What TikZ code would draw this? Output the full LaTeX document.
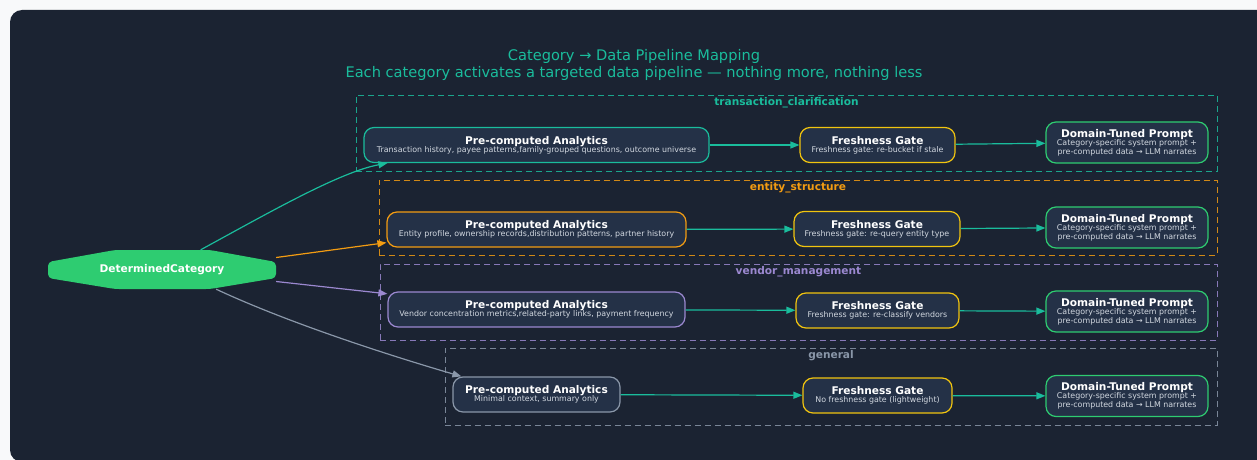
\documentclass[tikz,border=0pt]{standalone}
\usepackage{fontspec}
\setmainfont{DejaVu Sans}
\usetikzlibrary{arrows.meta}
\definecolor{PMPage}{HTML}{F8F9FA}
\definecolor{PMPanel}{HTML}{1B2332}
\definecolor{PMBox}{HTML}{243147}
\definecolor{PMTeal}{HTML}{1ABC9C}
\definecolor{PMOrange}{HTML}{F39C12}
\definecolor{PMPurple}{HTML}{9B88D0}
\definecolor{PMGrey}{HTML}{8A97A9}
\definecolor{PMGold}{HTML}{F1C40F}
\definecolor{PMGreen}{HTML}{2ECC71}
\definecolor{PMSub}{HTML}{D2D8E0}

% bold white heading line; the note lines below use the node font
\newcommand{\boxtext}[2]{{\fontsize{10.6}{12}\selectfont\bfseries\color{white}#1}\\[-1pt]#2}

\tikzset{
  stagebox/.style={draw=#1, line width=1.2pt, fill=PMBox, rounded corners=10pt,
    align=center, text=PMSub, font=\fontsize{7.9}{9.2}\selectfont,
    inner sep=0pt, minimum height=35pt},
  gatebox/.style={stagebox=PMGold},
  promptbox/.style={stagebox=PMGreen, minimum width=162pt, minimum height=41pt},
  clusterbox/.style={draw=#1, draw opacity=.85, line width=1pt, dash pattern=on 6pt off 4pt},
  clustertag/.style={text=#1, font=\fontsize{10.6}{12}\selectfont\bfseries,
    anchor=north, inner sep=0pt, yshift=-3pt},
  flow/.style={draw=#1, line width=1.2pt, -{Triangle[length=9pt,width=7pt]}},
}

\begin{document}
\begin{tikzpicture}[x=1pt,y=-1pt]
\useasboundingbox (0,0) rectangle (1257,460);
\fill[PMPage] (0,0) rectangle (1257,460);
\fill[PMPanel, rounded corners=12pt] (10,10) rectangle (1275,462);

% heading
\node[text=PMTeal, font=\fontsize{14.6}{17}\selectfont] (head) at (634,56) {Category → Data Pipeline Mapping};
\node[text=PMTeal, font=\fontsize{14.6}{17}\selectfont] (subhead) at (634,73)
  {Each category activates a targeted data pipeline — nothing more, nothing less};

% one dashed frame per category
\node[clusterbox=PMTeal, minimum width=861pt, minimum height=76pt] (tcbox) at (786.5,133) {};
\node[clustertag=PMTeal] at (tcbox.north) {transaction\_clarification};
\node[clusterbox=PMOrange, minimum width=838pt, minimum height=75pt] (esbox) at (798,217.5) {};
\node[clustertag=PMOrange] at (esbox.north) {entity\_structure};
\node[clusterbox=PMPurple, minimum width=837pt, minimum height=76pt] (vmbox) at (798.5,302) {};
\node[clustertag=PMPurple] at (vmbox.north) {vendor\_management};
\node[clusterbox=PMGrey, minimum width=772pt, minimum height=77pt] (gnbox) at (831,386.5) {};
\node[clustertag=PMGrey] at (gnbox.north) {general};

% transaction_clarification
\node[stagebox=PMTeal, minimum width=345pt] (tc1) at (536.5,145)
  {\boxtext{Pre-computed Analytics}{Transaction history, payee patterns,family-grouped questions, outcome universe}};
\node[gatebox, minimum width=155pt] (tc2) at (877.5,145)
  {\boxtext{Freshness Gate}{Freshness gate: re-bucket if stale}};
\node[promptbox] (tc3) at (1127,142.5)
  {\boxtext{Domain-Tuned Prompt}{Category-specific system prompt +\\pre-computed data → LLM narrates}};

% entity_structure
\node[stagebox=PMOrange, minimum width=299pt] (es1) at (536.5,229.5)
  {\boxtext{Pre-computed Analytics}{Entity profile, ownership records,distribution patterns, partner history}};
\node[gatebox, minimum width=166pt] (es2) at (877,229)
  {\boxtext{Freshness Gate}{Freshness gate: re-query entity type}};
\node[promptbox] (es3) at (1127,227.5)
  {\boxtext{Domain-Tuned Prompt}{Category-specific system prompt +\\pre-computed data → LLM narrates}};

% vendor_management
\node[stagebox=PMPurple, minimum width=297pt] (vm1) at (536.5,309.5)
  {\boxtext{Pre-computed Analytics}{Vendor concentration metrics,related-party links, payment frequency}};
\node[gatebox, minimum width=163pt] (vm2) at (877.5,310.5)
  {\boxtext{Freshness Gate}{Freshness gate: re-classify vendors}};
\node[promptbox] (vm3) at (1127,311.5)
  {\boxtext{Domain-Tuned Prompt}{Category-specific system prompt +\\pre-computed data → LLM narrates}};

% general
\node[stagebox=PMGrey, minimum width=167pt] (gn1) at (536.5,394.5)
  {\boxtext{Pre-computed Analytics}{Minimal context, summary only}};
\node[gatebox, minimum width=149pt] (gn2) at (877.5,395.5)
  {\boxtext{Freshness Gate}{No freshness gate (lightweight)}};
\node[promptbox] (gn3) at (1127,396)
  {\boxtext{Domain-Tuned Prompt}{Category-specific system prompt +\\pre-computed data → LLM narrates}};

% router
\fill[PMGreen, rounded corners=4pt] (48,262) -- (115,250) -- (210,250) -- (276,262)
  -- (276,278) -- (210,289) -- (115,289) -- (48,278) -- cycle;
\node[text=white, font=\fontsize{10.6}{12}\selectfont\bfseries, minimum width=228pt,
  minimum height=39pt, inner sep=0pt] (cat) at (162,269.5) {DeterminedCategory};

\draw[flow=PMTeal] (cat.27) .. controls (270,212) and (340,172) .. ([xshift=24pt]tc1.south west);
\draw[flow=PMOrange] (cat.6) -- (es1.185.7);
\draw[flow=PMPurple] (cat.-6) -- (vm1.174.6);
\draw[flow=PMGrey] (cat.-20) .. controls (295,326) and (405,360) .. ([xshift=9pt]gn1.north west);

\foreach \row in {tc,es,vm,gn}{
  \draw[flow=PMTeal] (\row1) -- (\row2);
  \draw[flow=PMTeal] (\row2) -- (\row3);
}
\end{tikzpicture}
\end{document}
